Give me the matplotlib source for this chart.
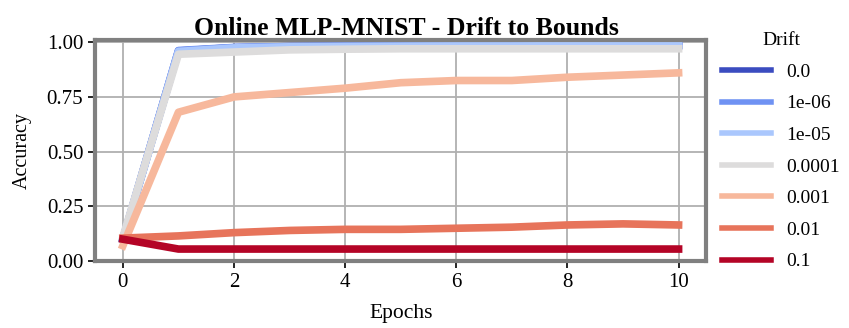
import numpy as np
import matplotlib
matplotlib.use("Agg")
import matplotlib.pyplot as plt

plt.rcParams['font.family'] = ['Liberation Serif', 'DejaVu Serif']

epochs = list(range(11))
drifts = ["0.0", "1e-06", "1e-05", "0.0001", "0.001", "0.01", "0.1"]

acc_0 = [0.10, 0.960, 0.975, 0.980, 0.982, 0.983, 0.984, 0.984, 0.985, 0.985, 0.985]
acc_1e6 = [0.10, 0.962, 0.976, 0.980, 0.982, 0.983, 0.984, 0.985, 0.985, 0.985, 0.986]
acc_1e5 = [0.10, 0.958, 0.974, 0.979, 0.981, 0.982, 0.983, 0.983, 0.984, 0.984, 0.984]
acc_1e4 = [0.11, 0.945, 0.955, 0.965, 0.968, 0.970, 0.970, 0.970, 0.970, 0.970, 0.970]
acc_1e3 = [0.07, 0.68, 0.75, 0.77, 0.79, 0.815, 0.825, 0.825, 0.84, 0.85, 0.86]
acc_1e2 = [0.105, 0.115, 0.13, 0.14, 0.145, 0.145, 0.15, 0.155, 0.165, 0.17, 0.165]
acc_1e1 = [0.10, 0.055, 0.055, 0.055, 0.055, 0.055, 0.055, 0.055, 0.055, 0.055, 0.055]
series = [acc_0, acc_1e6, acc_1e5, acc_1e4, acc_1e3, acc_1e2, acc_1e1]

colors = plt.cm.coolwarm(np.linspace(0, 1, len(drifts)))

fig = plt.figure(figsize=(8.49, 3.28), dpi=100)
ax = fig.add_axes([0.112, 0.204, 0.720, 0.674])

for drift, acc, c in zip(drifts, series, colors):
    ax.plot(epochs, acc, color=c, lw=5.5, label=drift)

ax.set_xlim(-0.5, 10.5)
ax.set_ylim(0, 1.01)
ax.set_yticks([0, 0.25, 0.5, 0.75, 1.0])
ax.set_xticks([0, 2, 4, 6, 8, 10])
ax.grid(True, color="#b0b0b0", lw=1.3)
ax.set_axisbelow(True)
for s in ax.spines.values():
    s.set_color("#808080")
    s.set_linewidth(3)
ax.tick_params(labelsize=15, length=5, width=1.2)
ax.set_xlabel("Epochs", fontsize=15.5, labelpad=9)
ax.set_ylabel("Accuracy", fontsize=14.5, labelpad=11)
ax.set_title("Online MLP-MNIST - Drift to Bounds", fontsize=18.5,
             fontweight="bold", pad=3, x=0.51)

leg = ax.legend(title="Drift", loc="upper left", bbox_to_anchor=(0.997, 1.115),
                frameon=False, fontsize=14, title_fontsize=14,
                handlelength=2.5, labelspacing=0.72)
for line in leg.get_lines():
    line.set_linewidth(4)

fig.savefig("out.png", dpi=100)
